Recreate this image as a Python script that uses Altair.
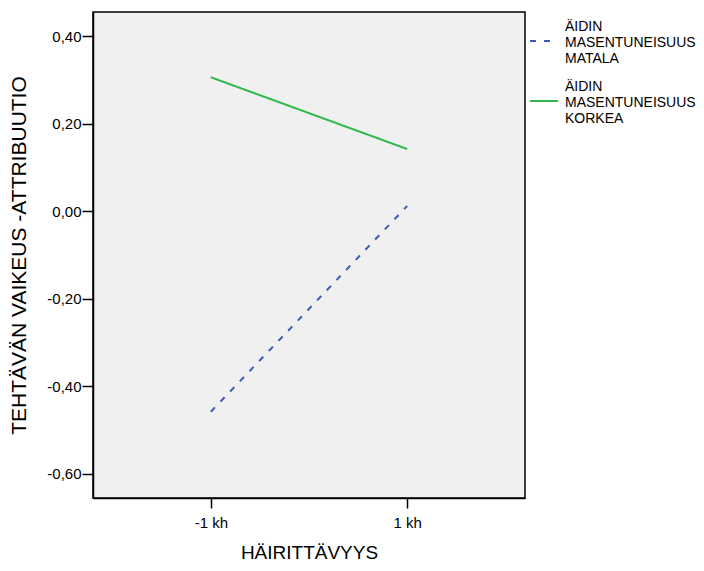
import altair as alt
import pandas as pd

x_labels = ["-1 kh", "1 kh"]
series = ["ÄIDIN|MASENTUNEISUUS|MATALA", "ÄIDIN|MASENTUNEISUUS|KORKEA"]
matala = [-0.458, 0.012]
korkea = [0.306, 0.142]

rows = []
for xl, v in zip(x_labels, matala):
    rows.append({"x": xl, "y": v, "s": series[0]})
for xl, v in zip(x_labels, korkea):
    rows.append({"x": xl, "y": v, "s": series[1]})
df = pd.DataFrame(rows)

FONT = "Liberation Sans"

chart = alt.Chart(df).mark_line(strokeWidth=2).encode(
    x=alt.X("x:N", sort=x_labels,
            scale=alt.Scale(type="point", padding=0.6),
            axis=alt.Axis(title="HÄIRITTÄVYYS", labelAngle=0, tickSize=10,
                          labelPadding=7, titlePadding=13, labelFontSize=15,
                          titleFontSize=19, titleFontWeight="normal")),
    y=alt.Y("y:Q", scale=alt.Scale(domain=[-0.655, 0.455], nice=False, zero=False),
            axis=alt.Axis(title="TEHTÄVÄN VAIKEUS -ATTRIBUUTIO",
                          values=[-0.6, -0.4, -0.2, 0.0, 0.2, 0.4],
                          labelExpr="replace(replace(format(datum.value, '.2f'), '.', ','), '\u2212', '-')",
                          tickSize=11, labelPadding=1, titlePadding=17,
                          labelFontSize=15, titleFontSize=21, titleFontWeight="normal",
                          grid=False)),
    color=alt.Color("s:N", sort=series,
                    scale=alt.Scale(domain=series, range=["#3b5bb5", "#2db84a"]),
                    legend=alt.Legend(title=None, orient="right", offset=4, padding=0,
                                      symbolType="M-1,1L1,1", symbolSize=784,
                                      symbolStrokeWidth=2, symbolFillColor="transparent",
                                      labelFontSize=14,
                                      labelOffset=6, rowPadding=6,
                                      labelBaseline="middle",
                                      labelExpr="split(datum.label, '|')",
                                      labelLimit=300)),
    strokeDash=alt.StrokeDash("s:N", sort=series,
                              scale=alt.Scale(domain=series, range=[[6, 8], [1, 0]]),
                              legend=None),
).properties(
    width=432, height=486, background="white",
    padding={"left": 0, "top": 4, "right": 0, "bottom": 0},
).configure_view(
    fill="#f0f0f0", stroke="black", strokeWidth=1.5
).configure_axis(
    domainColor="black", tickColor="black", labelColor="black", titleColor="black",
    domainWidth=1.5, tickWidth=1.5,
    labelFont=FONT, titleFont=FONT,
).configure_legend(
    labelFont=FONT, labelColor="black"
)

chart.save("out.html", embed_options={"renderer": "svg", "actions": False})
